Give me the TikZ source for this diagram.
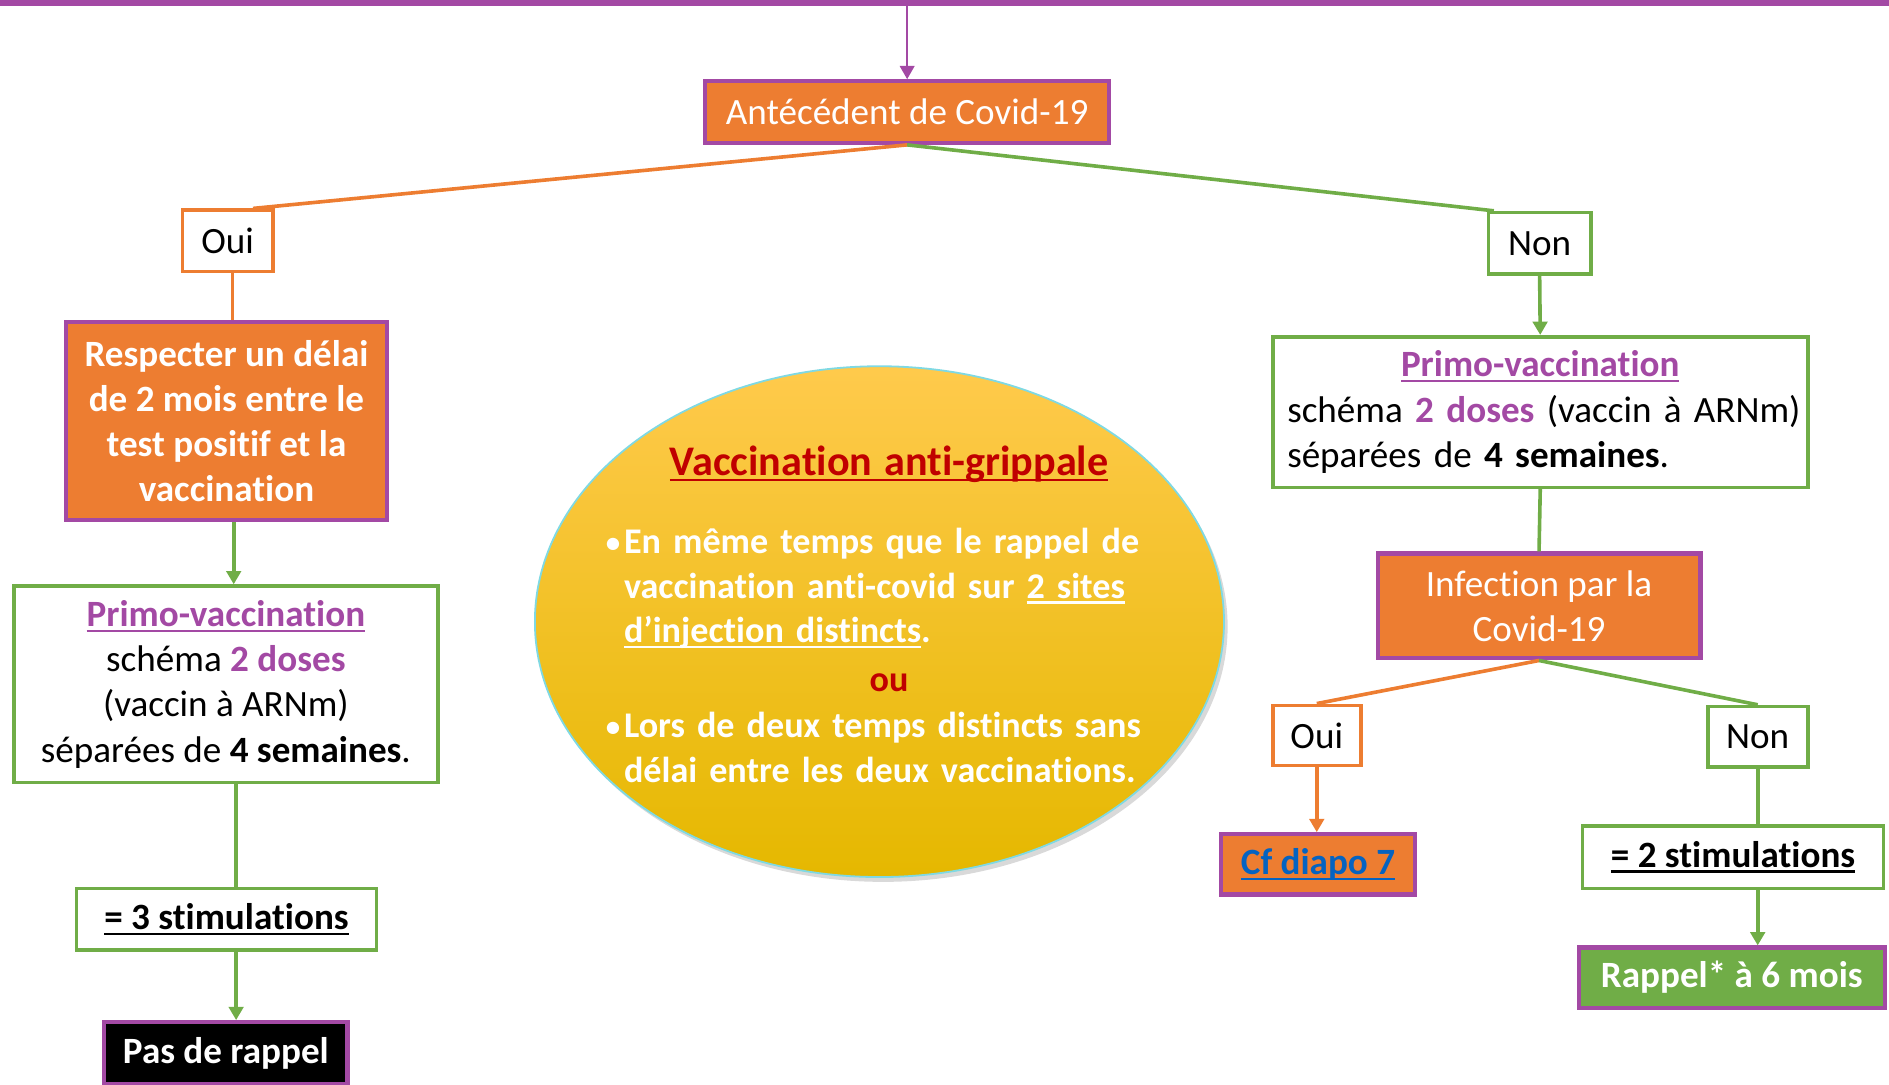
\documentclass[tikz,border=0pt]{standalone}
\usepackage{fontspec}
\setmainfont{Carlito}[Ligatures=NoCommon]
\usetikzlibrary{arrows.meta, positioning, shapes.geometric, shadows}

\definecolor{mauve}{HTML}{A349A4}
\definecolor{orangef}{HTML}{ED7D31}
\definecolor{vert}{HTML}{70AD47}
\definecolor{rougef}{HTML}{C00000}
\definecolor{bleulien}{HTML}{0563C1}
\definecolor{jauneh}{HTML}{FFCA4C}
\definecolor{jaunem}{HTML}{FFC200}
\definecolor{jauneb}{HTML}{E5B800}
\definecolor{cyanb}{HTML}{7FD9E3}

\newsavebox\soulbox
\newcommand{\souligne}[1]{\sbox\soulbox{#1}\leavevmode\rlap{\rule[-4.5pt]{\wd\soulbox}{2pt}}\usebox\soulbox}
\newcommand{\taille}{\fontsize{30.8}{37.5}\selectfont}
\newcommand{\titre}[1]{\textbf{\souligne{#1}}}
\newcommand{\puce}[1]{\par\hangindent=15pt\hangafter=1\noindent\makebox[15pt][l]{\raisebox{1pt}{\fontsize{24}{24}\selectfont\textbullet}}#1\par}

\begin{document}
\begin{tikzpicture}[
  x=1pt, y=-1pt,
  >={Triangle[width=12pt,length=11pt]},
  every node/.style={font=\taille, inner sep=0pt},
  gras/.style={font=\taille\bfseries},
  plein/.style={draw=mauve, line width=3.5pt, fill=orangef, text=white, align=center},
  cadre/.style={draw=#1, line width=3pt, fill=white, align=center},
  lien/.style={line width=3pt}
]
  \useasboundingbox (0,0) rectangle (1568,900);
  \clip (0,0) rectangle (1568,900);

  % barre du haut
  \fill[mauve] (0,0) rectangle (1568,5);
  \coordinate (haut) at (753,5);
  \coordinate (colG) at (196,0);

  \node[plein, minimum width=335pt, minimum height=51pt] (ant) at (753,93) {Antécédent de Covid-19};

  % branche gauche
  \node[cadre=orangef, minimum width=75pt, minimum height=51pt] (oui) at (189,200) {Oui};
  \node[plein, gras, minimum width=267pt, minimum height=164pt] (resp) at (188,349.5)
    {Respecter un délai\\de 2 mois entre le\\test positif et la\\vaccination};
  \node[cadre=vert, minimum width=352pt, minimum height=163pt] (primoL) at (187.5,568)
    {{\color{mauve}\titre{Primo-vaccination}}\\schéma {\bfseries\color{mauve}2 doses}\\(vaccin à ARNm)\\séparées de \textbf{4 semaines}.};
  \node[cadre=vert, minimum width=249pt, minimum height=51pt] (stim3) at (188,763) {\titre{= 3 stimulations}};
  \node[draw=mauve, line width=3.5pt, fill=black, text=white, gras, minimum width=202pt, minimum height=51pt] (pas) at (187.5,874) {Pas de rappel};

  % branche droite
  \node[cadre=vert, minimum width=85pt, minimum height=51pt] (non) at (1278,202) {Non};
  \node[draw=vert, line width=3pt, fill=white, minimum width=444pt, minimum height=125pt, text width=420pt, align=left] (primoR) at (1278.5,342)
    {{\centering\color{mauve}\titre{Primo-vaccination}\par}
     \mbox{schéma {\bfseries\color{mauve}2 doses} (vaccin à ARNm)}\\séparées de \textbf{4 semaines}.};
  \node[plein, minimum width=268pt, minimum height=87pt] (inf) at (1277.5,503) {Infection par la\\Covid-19};
  \node[cadre=orangef, minimum width=73pt, minimum height=50pt] (oui2) at (1093,610.5) {Oui};
  \node[cadre=vert, minimum width=83pt, minimum height=50pt] (non2) at (1459,611.5) {Non};
  \node[plein, text=bleulien, minimum width=161pt, minimum height=50pt] (cf) at (1094,717.5) {\titre{Cf diapo 7}};
  \node[cadre=vert, minimum width=250pt, minimum height=52pt] (stim2) at (1438.5,711.5) {\titre{= 2 stimulations}};
  \node[draw=mauve, line width=3.5pt, fill=vert, text=white, gras, minimum width=254pt, minimum height=50pt] (rappel) at (1437.5,811.5) {Rappel* à 6 mois};

  % vaccination anti-grippale
  \node[ellipse, draw=cyanb, line width=1.5pt, minimum width=572pt, minimum height=424pt,
        top color=jauneh, middle color=jaunem, bottom color=jauneb,
        drop shadow={opacity=0.3, shadow xshift=3pt, shadow yshift=-4pt}] (grippe) at (730,516) {};
  \node[text=white, font=\fontsize{30}{37.2}\selectfont\bfseries, text width=470pt, align=left] (grippetxt) at (738,510)
    {{\centering\fontsize{35}{40}\selectfont\color{rougef}\titre{Vaccination anti-grippale}\par}
     \vspace{27pt}
     \puce{En même temps que le rappel de\newline vaccination anti-covid sur \souligne{2 sites}\newline \souligne{d’injection distincts}.}
     \vspace{3pt}
     {\centering\color{rougef}ou\par}
     \vspace{1pt}
     \puce{Lors de deux temps distincts sans\newline délai entre les deux vaccinations.}};

  % liens
  \draw[->, mauve, line width=2pt] (haut) -- (ant.north);
  \draw[lien, orangef] (ant.south) -- ([xshift=21pt]oui.north);
  \draw[lien, vert] (ant.south) -- ([xshift=-38pt]non.north);
  \draw[lien, orangef] ([xshift=4pt]oui.south) -- ([xshift=4pt]oui.south |- resp.north);
  \draw[lien, ->, vert] ([xshift=-2pt]colG |- resp.south) -- ([xshift=-2pt]colG |- primoL.north);
  \draw[lien, vert] (colG |- primoL.south) -- (colG |- stim3.north);
  \draw[lien, ->, vert] (colG |- stim3.south) -- (colG |- pas.north);
  \draw[lien, ->, vert] (non.south) -- (primoR.north);
  \draw[lien, vert] (primoR.south) -- (inf.north);
  \draw[lien, orangef] (inf.south) -- (oui2.north);
  \draw[lien, vert] (inf.south) -- (non2.north);
  \draw[lien, ->, orangef] (oui2.south) -- (oui2.south |- cf.north);
  \draw[lien, vert] (non2.south) -- (non2.south |- stim2.north);
  \draw[lien, ->, vert] (non2.south |- stim2.south) -- (non2.south |- rappel.north);
\end{tikzpicture}
\end{document}
